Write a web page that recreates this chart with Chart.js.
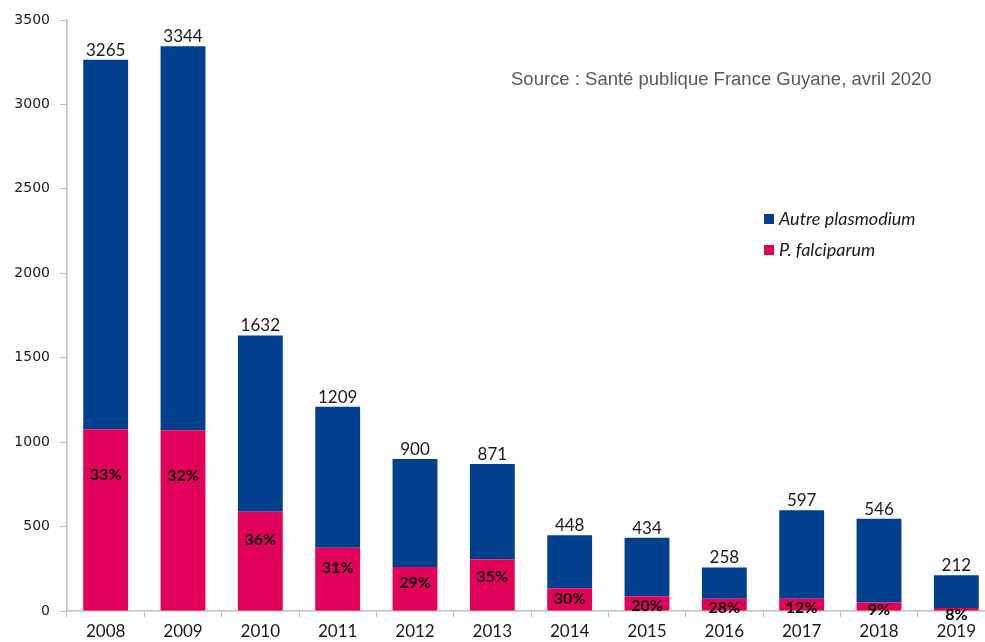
<!DOCTYPE html>
<html>
<head>
<meta charset="utf-8">
<script src="https://cdn.jsdelivr.net/npm/chart.js@4.4.1/dist/chart.umd.min.js"></script>
<style>
  html, body { margin: 0; padding: 0; background: #fff; overflow: hidden; }
  #wrap { position: absolute; left: 0; top: 0; width: 995px; height: 642px; }
</style>
</head>
<body>
<div id="wrap"><canvas id="paludisme"></canvas></div>
<script>
// années et effectifs
const annees = ["2008","2009","2010","2011","2012","2013","2014","2015","2016","2017","2018","2019"];
const totaux = [3265, 3344, 1632, 1209, 900, 871, 448, 434, 258, 597, 546, 212];
const falciparum = [1077, 1070, 588, 375, 261, 305, 134, 87, 72, 72, 51, 18];
const autre = [2188, 2274, 1044, 834, 639, 566, 314, 347, 186, 525, 495, 194];
const pourcentages = ["33%","32%","36%","31%","29%","35%","30%","20%","28%","12%","9%","8%"];
const yTicks = [0, 500, 1000, 1500, 2000, 2500, 3000, 3500];

const BLEU = '#01408E';
const ROUGE = '#E2005A';

/*==================== étiquettes + légende + source ====================*/
const etiquettes = {
    id: 'etiquettes',
    afterDatasetsDraw(chart) {
        const ctx = chart.ctx;
        const basRouge = chart.getDatasetMeta(0).data;
        const hautBleu = chart.getDatasetMeta(1).data;
        ctx.save();
        ctx.textAlign = 'center';

        // total au dessus de chaque barre
        ctx.fillStyle = '#1a1a1a';
        ctx.font = '17px Lato';
        ctx.textBaseline = 'bottom';
        hautBleu.forEach((bar, i) => {
            ctx.fillText(String(totaux[i]), bar.x, bar.y - 1);
        });

        // pourcentage P. falciparum (placé dans le haut de la partie rouge)
        ctx.font = 'bold 16px Lato';
        ctx.fillStyle = '#000';
        ctx.textBaseline = 'middle';
        basRouge.forEach((bar, i) => {
            const h = bar.base - bar.y;
            ctx.fillText(pourcentages[i], bar.x, bar.y + 6 + 0.22 * h);
        });

        // source
        ctx.textAlign = 'left';
        ctx.font = '18.5px "Liberation Sans"';
        ctx.fillStyle = '#595959';
        ctx.fillText('Source : Santé publique France Guyane, avril 2020', 511, 80);

        // légende
        ctx.font = 'italic 18px Lato';
        ctx.fillStyle = BLEU;
        ctx.fillRect(764, 214, 10, 10);
        ctx.fillStyle = ROUGE;
        ctx.fillRect(764, 245, 10, 10);
        ctx.fillStyle = '#1a1a1a';
        ctx.fillText('Autre plasmodium', 779, 219);
        ctx.fillText('P. falciparum', 779, 250);
        ctx.restore();
    }
};

const chart = new Chart(document.getElementById('paludisme'), {
    type: 'bar',
    data: {
        labels: annees,
        datasets: [{
            label: 'P. falciparum',
            data: falciparum,
            backgroundColor: ROUGE,
            barPercentage: 0.58,
            categoryPercentage: 1
        }, {
            label: 'Autre plasmodium',
            data: autre,
            backgroundColor: BLEU,
            barPercentage: 0.58,
            categoryPercentage: 1
        }]
    },
    options: {
        responsive: true,
        maintainAspectRatio: false,
        animation: false,
        layout: { padding: { top: 20, right: 0, left: 0, bottom: 0 } },
        plugins: {
            legend: { display: false },
            tooltip: { enabled: false }
        },
        scales: {
            x: {
                stacked: true,
                grid: { display: true, drawOnChartArea: false, offset: true, tickLength: 6, color: '#bfbfbf' },
                border: { color: '#bfbfbf', width: 1.5 },
                ticks: { color: '#1a1a1a', font: { family: 'Lato', size: 17 }, padding: 4, maxRotation: 0 },
                afterFit(scale) { scale.height = 31; }
            },
            y: {
                stacked: true,
                min: 0,
                max: 3500,
                afterBuildTicks(scale) { scale.ticks = yTicks.map(v => ({ value: v })); },
                grid: { display: true, drawOnChartArea: false, tickLength: 7, color: '#bfbfbf' },
                border: { color: '#bfbfbf', width: 1.5 },
                ticks: {
                    color: '#1a1a1a',
                    font: { family: 'DejaVu Sans', size: 14 },
                    padding: 10,
                    callback: v => String(v)
                },
                afterFit(scale) { scale.width = 67; }
            }
        }
    },
    plugins: [etiquettes]
});
</script>
</body>
</html>
